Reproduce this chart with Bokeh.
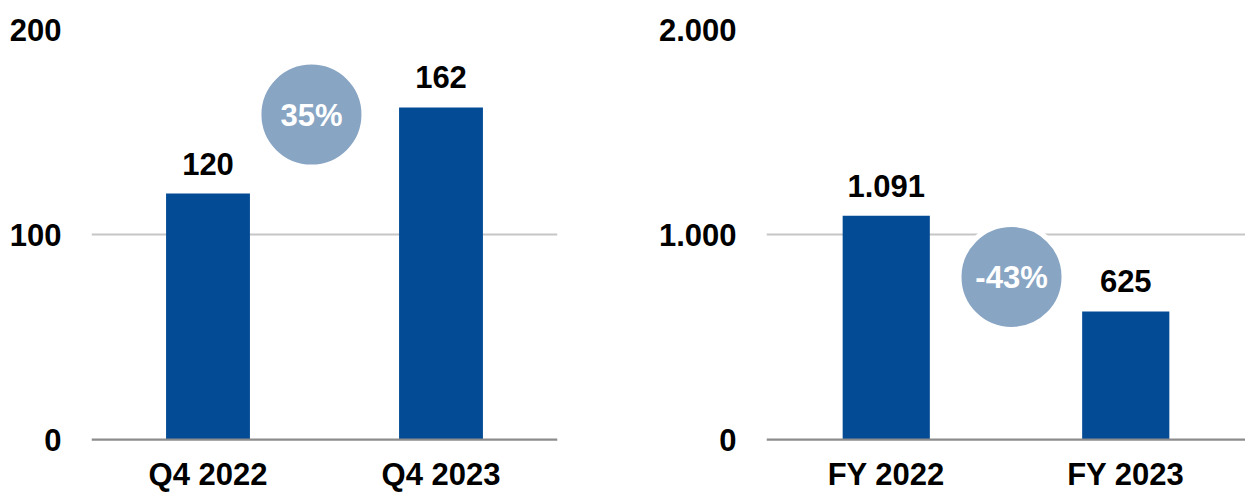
from bokeh.plotting import figure
from bokeh.layouts import row
from bokeh.models import Range1d, FixedTicker, Span
from bokeh.core.properties import value
from bokeh.embed import file_html
from bokeh.resources import INLINE

# ---- data ----
q_categories = ["Q4 2022", "Q4 2023"]
q_values = [120, 162]
q_ticks = [0, 100, 200]

fy_categories = ["FY 2022", "FY 2023"]
fy_values = [1091, 625]
fy_ticks = [0, 1000, 2000]

# ---- style ----
BAR = "#034B95"
BADGE = "#88A5C4"
GRID = "#C6C6C6"
BASE = "#8C8C8C"
FONT = "Liberation Sans"
FS = "31px"
HEIGHT = 493
TOP = 29          # px of the top gridline
ZERO = 439        # px of the zero line
SCALE_PX = ZERO - TOP


def fmt(v):
    return f"{v:,}".replace(",", ".")


def make(categories, values, ticks, width, border_left, border_right,
         x_end, bar_width, badge_x, badge_y):
    top = ticks[-1]
    start = -top * (HEIGHT - ZERO) / SCALE_PX
    p = figure(width=width, height=HEIGHT, output_backend="svg",
               toolbar_location=None, x_axis_location=None,
               x_range=Range1d(0, x_end), y_range=Range1d(start, top),
               min_border_left=border_left, min_border_right=border_right,
               min_border_top=TOP, min_border_bottom=0)
    p.outline_line_color = None
    p.xgrid.visible = False
    p.ygrid.ticker = FixedTicker(ticks=ticks[1:])
    p.ygrid.grid_line_color = GRID
    p.ygrid.grid_line_width = 2

    ax = p.yaxis[0]
    ax.ticker = FixedTicker(ticks=ticks)
    ax.major_label_overrides = {t: fmt(t) for t in ticks}
    ax.axis_line_color = None
    ax.major_tick_line_color = None
    ax.minor_tick_line_color = None
    ax.major_tick_in = 0
    ax.major_tick_out = 0
    ax.major_label_standoff = 30
    ax.major_label_text_font = FONT
    ax.major_label_text_font_size = FS
    ax.major_label_text_font_style = "bold"
    ax.major_label_text_color = "black"

    xs = [i + 0.5 for i in range(len(categories))]
    p.vbar(x=xs, top=values, bottom=0, width=bar_width,
           fill_color=BAR, line_color=None)

    p.add_layout(Span(location=0, dimension="width",
                      line_color=BASE, line_width=2.25))

    # value labels
    p.text(x=xs, y=values, text=[fmt(v) for v in values],
           text_font=value(FONT), text_font_style="bold", text_font_size=FS,
           text_align="center", text_baseline="alphabetic", y_offset=-30,
           text_color="black")

    # category labels
    p.text(x=xs, y=[0] * len(xs), text=categories,
           text_font=value(FONT), text_font_style="bold", text_font_size=FS,
           text_align="center", text_baseline="alphabetic", y_offset=35,
           text_color="black")

    # change badge
    pct = round((values[1] / values[0] - 1) * 100)
    p.scatter(x=[badge_x], y=[badge_y], marker="circle", size=105,
              fill_color=BADGE, line_color="white", line_width=5)
    p.text(x=[badge_x], y=[badge_y], text=[f"{pct}%"],
           text_font=value(FONT), text_font_style="bold", text_font_size=FS,
           text_align="center", text_baseline="alphabetic", y_offset=1,
           text_color="white")
    return p


p1 = make(q_categories, q_values, q_ticks, width=655, border_left=91,
          border_right=98, x_end=2.0, bar_width=0.36,
          badge_x=0.944, badge_y=158.5)
p2 = make(fy_categories, fy_values, fy_ticks, width=590, border_left=107,
          border_right=0, x_end=2.0, bar_width=0.364,
          badge_x=1.023, badge_y=792.7)

layout = row(p1, p2)
open("out.html", "w").write(file_html(layout, INLINE))
